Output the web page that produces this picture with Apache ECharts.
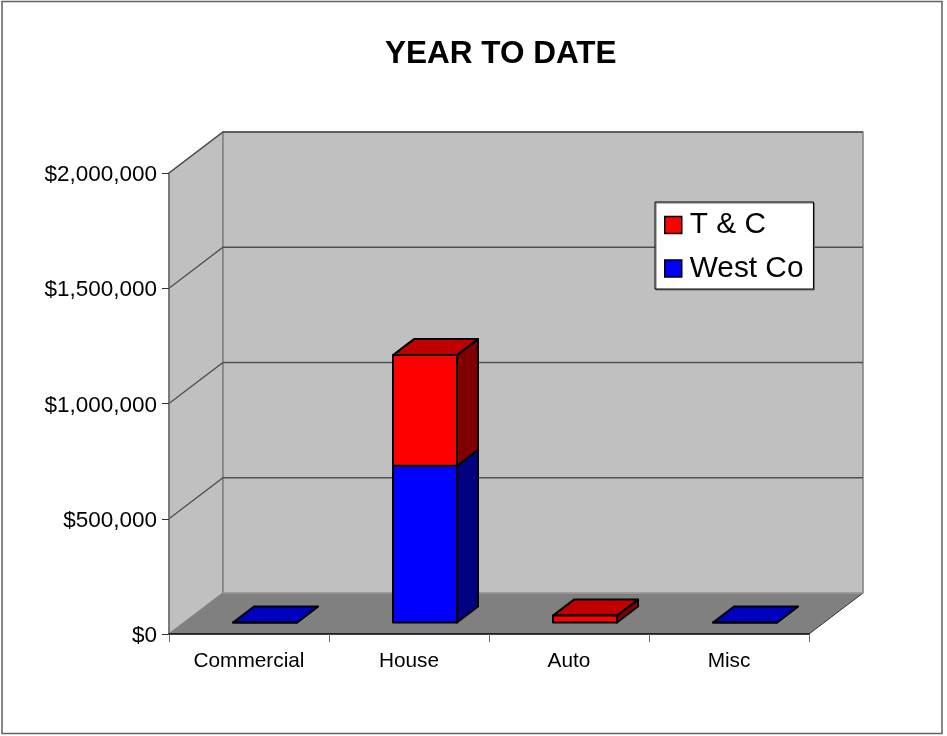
<!DOCTYPE html>
<html>
<head>
<meta charset="utf-8">
<style>html,body{margin:0;padding:0;background:#fff}#c{width:947px;height:736px}</style>
<script src="https://cdn.jsdelivr.net/npm/echarts@6/dist/echarts.min.js"></script>
</head>
<body>
<div id="c"></div>
<script>
const titleText = 'YEAR TO DATE';
const categories = ['Commercial', 'House', 'Auto', 'Misc'];
const westCoValues = [0, 680000, null, 0];
const tcValues = [null, 480000, 30000, null];
const gridTicks = [500000, 1000000, 1500000, 2000000];

const wallDepth = [54, -41];
const barInset = [16, -11.5];
const barDepth = [21, -16];
const font = '"Liberation Sans", Arial, sans-serif';

function poly(points, fill, stroke, lineWidth) {
  return { type: 'polygon', shape: { points }, style: { fill, stroke, lineWidth, lineJoin: 'round' } };
}
function shift(p, d) { return [p[0] + d[0], p[1] + d[1]]; }

function renderWalls(params, api) {
  const cs = params.coordSys;
  const l = cs.x, r = cs.x + cs.width, t = cs.y, b = cs.y + cs.height;
  const [dx, dy] = wallDepth;
  const children = [
    poly([[l, t], [l + dx, t + dy], [l + dx, b + dy], [l, b]], '#c0c0c0', '#808080', 1.5),
    poly([[l + dx, t + dy], [r + dx, t + dy], [r + dx, b + dy], [l + dx, b + dy]], '#c0c0c0', '#808080', 1.5),
    poly([[l, b], [l + dx, b + dy], [r + dx, b + dy], [r, b]], '#808080', null, 0),
    { type: 'line', shape: { x1: r, y1: b, x2: r + dx, y2: b + dy }, style: { stroke: '#333', lineWidth: 1 } },
    { type: 'line', shape: { x1: l + dx, y1: b + dy, x2: r + dx, y2: b + dy }, style: { stroke: '#a8a8a8', lineWidth: 1 } }
  ];
  gridTicks.forEach(v => {
    const y = api.coord([0, v])[1];
    children.push({ type: 'polyline', shape: { points: [[l, y], [l + dx, y + dy], [r + dx, y + dy]] },
      style: { stroke: '#505050', lineWidth: 1.3, fill: null } });
  });
  return { type: 'group', children };
}

function makeBarRenderer(front, top, side) {
  return function (params, api) {
    const cat = api.value(0), base = api.value(1), val = api.value(2);
    const width = api.size([1, 0])[0] * 0.4;
    const c0 = shift(api.coord([cat, base]), barInset);
    const c1 = shift(api.coord([cat, base + val]), barInset);
    const x0 = c0[0] - width / 2, x1 = c0[0] + width / 2, yb = c0[1], yt = c1[1];
    const lw = 2;
    return { type: 'group', children: [
      poly([[x1, yb], shift([x1, yb], barDepth), shift([x1, yt], barDepth), [x1, yt]], side, '#000', lw),
      poly([[x0, yt], shift([x0, yt], barDepth), shift([x1, yt], barDepth), [x1, yt]], top, '#000', lw),
      poly([[x0, yb], [x1, yb], [x1, yt], [x0, yt]], front, '#000', lw)
    ] };
  };
}

const westData = westCoValues.map((v, i) => v === null ? null : [i, 0, v]).filter(Boolean);
const tcData = tcValues.map((v, i) => v === null ? null : [i, westCoValues[i] || 0, v]).filter(Boolean);

const chart = echarts.init(document.getElementById('c'), null, { renderer: 'canvas' });
chart.setOption({
  animation: false,
  backgroundColor: '#ffffff',
  title: {
    text: titleText, left: 380, top: 33,
    textStyle: { fontFamily: font, fontSize: 31.5, fontWeight: 'bold', color: '#000' }
  },
  grid: { left: 169, right: 138, top: 173, bottom: 102 },
  xAxis: {
    type: 'category', data: categories, z: 3,
    axisLine: { show: true, onZero: false, lineStyle: { color: '#000', width: 1.5 } },
    axisTick: { show: true, length: 8, lineStyle: { color: '#666', width: 1 } },
    axisLabel: { fontFamily: font, fontSize: 20.8, color: '#000', margin: 17, interval: 0 },
    splitLine: { show: false }
  },
  yAxis: {
    type: 'value', min: 0, max: 2000000, interval: 500000, z: 3,
    axisLine: { show: true, lineStyle: { color: '#707070', width: 1.5 } },
    axisTick: { show: true, length: 7, lineStyle: { color: '#333', width: 1 } },
    axisLabel: { fontFamily: font, fontSize: 22.5, color: '#000', margin: 12,
      verticalAlign: 'top', lineHeight: 4,
      formatter: v => '$' + v.toLocaleString('en-US') },
    splitLine: { show: false }
  },
  legend: {
    left: 655, top: 202, orient: 'vertical', data: ['T & C', 'West Co'],
    icon: 'rect', itemWidth: 17, itemHeight: 17, itemGap: 10.5,
    padding: [6.5, 10, 4, 9],
    backgroundColor: '#ffffff', borderColor: '#000', borderWidth: 1,
    shadowColor: '#707070', shadowOffsetX: 1, shadowOffsetY: 1, shadowBlur: 0,
    itemStyle: { borderColor: '#000', borderWidth: 1.5 },
    textStyle: { fontFamily: font, fontSize: 29.8, lineHeight: 30, color: '#000', padding: [3, 0, 0, 3] },
    selectedMode: false
  },
  series: [
    { type: 'custom', name: 'walls', data: [[0]], renderItem: renderWalls, silent: true, z: 1, clip: false },
    { type: 'custom', name: 'West Co', data: westData, encode: { x: 0, y: 2 }, itemStyle: { color: '#0000ff' },
      renderItem: makeBarRenderer('#0000ff', '#0000c0', '#000080'), z: 2, clip: false },
    { type: 'custom', name: 'T & C', data: tcData, encode: { x: 0, y: 2 }, itemStyle: { color: '#ff0000' },
      renderItem: makeBarRenderer('#ff0000', '#c00000', '#800000'), z: 2, clip: false }
  ],
  graphic: [{
    type: 'rect', shape: { x: 2, y: 1.5, width: 940, height: 732 }, silent: true,
    style: { fill: null, stroke: '#606060', lineWidth: 1.5 }
  }]
});
</script>
</body>
</html>
